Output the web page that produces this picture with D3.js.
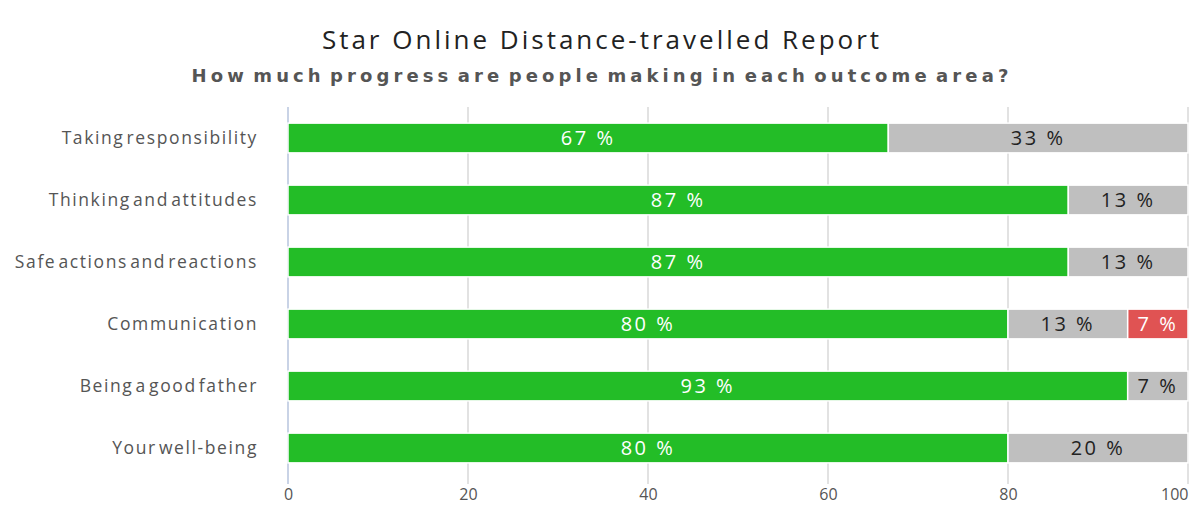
<!DOCTYPE html>
<html>
<head>
<meta charset="utf-8">
<script src="https://cdn.jsdelivr.net/npm/d3@7"></script>
<style>
  body { margin: 0; background: #fff; }
  text { font-family: "Open Sans", "Noto Sans", sans-serif; }
</style>
</head>
<body>
<div id="chart"></div>
<script>
// chart data
var categories = ["Taking responsibility", "Thinking and attitudes", "Safe actions and reactions",
                  "Communication", "Being a good father", "Your well-being"];
var progressed = [66.7, 86.7, 86.7, 80, 93.3, 80];
var noChange   = [33.3, 13.3, 13.3, 13.3, 6.7, 20];
var declined   = [0, 0, 0, 6.7, 0, 0];
var xTicks = [0, 20, 40, 60, 80, 100];

var seriesColors = ["#23bd27", "#bfbfbf", "#e05353"];
var labelColors = ["#ffffff", "#222222", "#ffffff"];

var W = 1199, H = 506;
var svg = d3.select("#chart").append("svg").attr("width", W).attr("height", H);

var x = d3.scaleLinear().domain([0, 100]).range([288, 1188]);
var y = d3.scaleBand().domain(categories).range([107, 479]).paddingInner(0.52).paddingOuter(0.26);

// title
svg.append("text").attr("x", 602).attr("y", 49).attr("text-anchor", "middle")
  .style("font-size", "26px").style("letter-spacing", "3px").style("fill", "#222")
  .text("Star Online Distance-travelled Report");
svg.append("text").attr("x", 602).attr("y", 82).attr("text-anchor", "middle")
  .style("font-family", "'DejaVu Sans', sans-serif")
  .style("font-size", "18px").style("font-weight", "bold").style("letter-spacing", "4.1px")
  .style("word-spacing", "-5px")
  .style("fill", "#555").text("How much progress are people making in each outcome area?");

// grid lines
svg.selectAll(".grid").data(xTicks.slice(1)).enter().append("line")
  .attr("x1", function(d) { return x(d); }).attr("x2", function(d) { return x(d); })
  .attr("y1", 107).attr("y2", 484)
  .attr("stroke", "#e2e2e2").attr("stroke-width", 2);

// axis line
svg.append("line").attr("x1", x(0)).attr("x2", x(0)).attr("y1", 107).attr("y2", 484)
  .attr("stroke", "#c9d3e6").attr("stroke-width", 2);

// x tick labels
var xAxis = svg.append("g").attr("transform", "translate(0,487)")
  .call(d3.axisBottom(x).tickValues(xTicks).tickSize(0).tickPadding(2));
xAxis.select(".domain").remove();
xAxis.selectAll("text").style("font-size", "16px").style("fill", "#555")
  .style("font-family", "'Open Sans', 'Noto Sans', sans-serif")
  .attr("text-anchor", function(d) { return d === 100 ? "end" : "middle"; });

// category labels
svg.selectAll(".cat").data(categories).enter().append("text")
  .attr("x", 258).attr("y", function(d) { return y(d) + y.bandwidth() / 2; })
  .attr("dy", "0.35em").attr("text-anchor", "end")
  .style("font-size", "17.5px").style("letter-spacing", "1.6px").style("word-spacing", "-4px")
  .style("fill", "#555").text(function(d) { return d; });

// stacked segments
var series = [progressed, noChange, declined];
categories.forEach(function(cat, i) {
  var start = 0;
  series.forEach(function(vals, s) {
    var v = vals[i];
    if (v > 0) {
      svg.append("rect")
        .attr("x", x(start)).attr("y", y(cat))
        .attr("width", x(start + v) - x(start)).attr("height", y.bandwidth())
        .attr("fill", seriesColors[s]).attr("stroke", "#fff").attr("stroke-width", 1.5);
      svg.append("text")
        .attr("x", (x(start) + x(start + v)) / 2).attr("y", y(cat) + y.bandwidth() / 2)
        .attr("dy", "0.36em").attr("text-anchor", "middle")
        .style("font-size", "20px").style("letter-spacing", "2.5px")
        .style("fill", labelColors[s]).text(Math.round(v) + " %");
      start += v;
    }
  });
});
</script>
</body>
</html>
